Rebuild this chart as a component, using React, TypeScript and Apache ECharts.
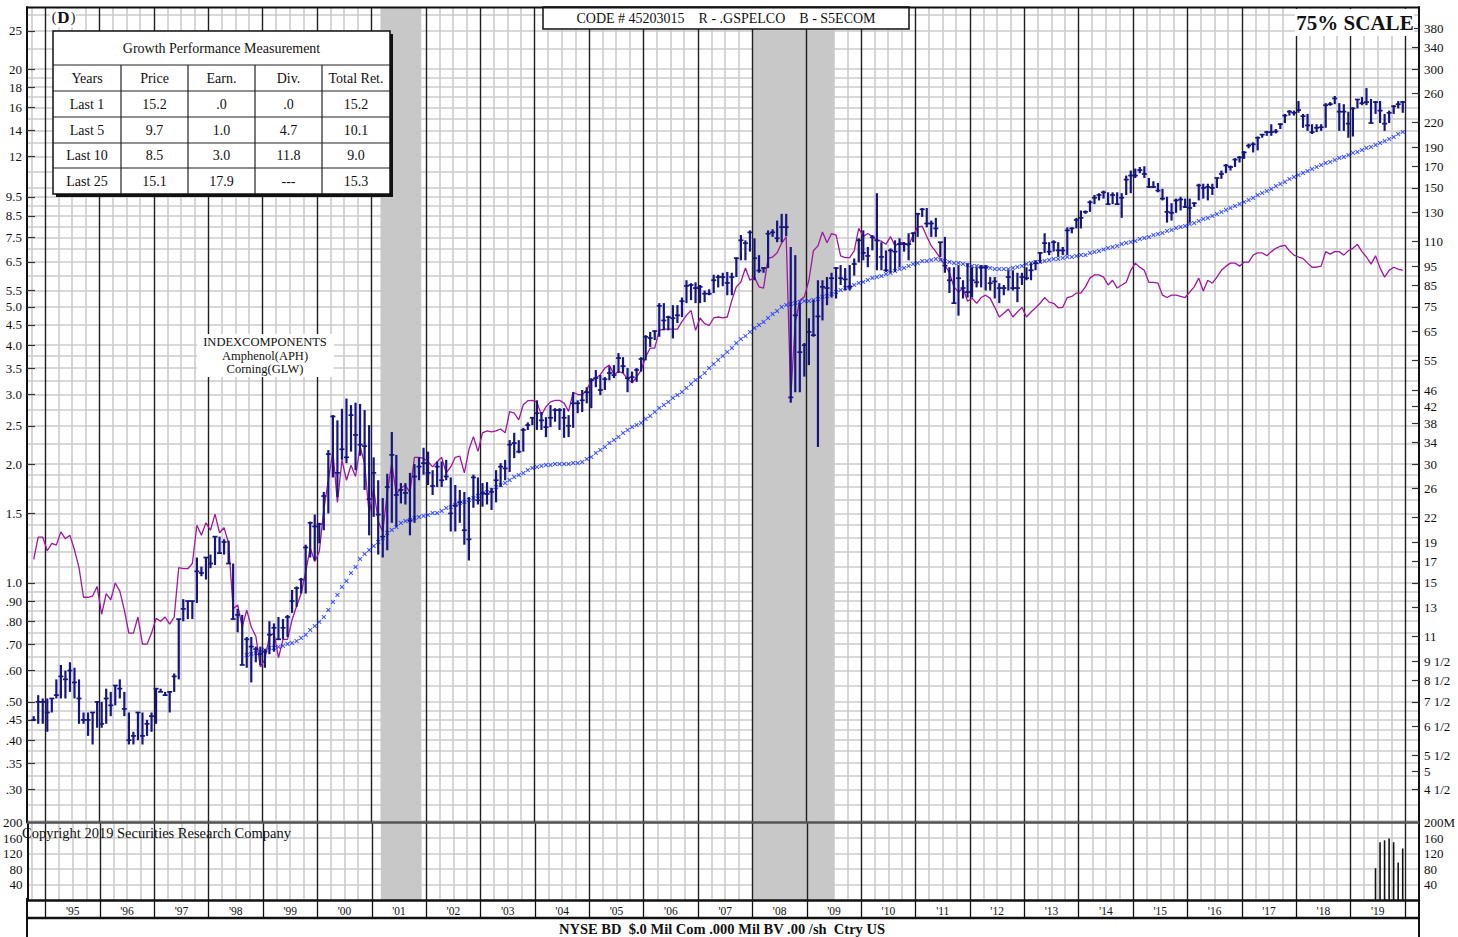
import React, { useEffect, useRef } from "react";
import * as echarts from "echarts";

// ---------------- DATA ----------------
// Monthly bars from October 1994 to December 2019
const START_YEAR = 1994;
const START_MONTH = 9; // October (0-based)

const priceHigh = [
  0.46, 0.52, 0.51,
  0.51, 0.51, 0.57, 0.62, 0.60, 0.63, 0.61, 0.57, 0.47, 0.47, 0.47, 0.50,
  0.50, 0.54, 0.53, 0.55, 0.57, 0.53, 0.47, 0.42, 0.47, 0.47, 0.45, 0.47,
  0.54, 0.54, 0.53, 0.53, 0.59, 0.81, 0.91, 0.90, 0.90, 1.16, 1.10, 1.16,
  1.18, 1.31, 1.31, 1.29, 1.28, 1.12, 0.86, 0.83, 0.73, 0.73, 0.69, 0.69,
  0.68, 0.80, 0.79, 0.82, 0.81, 0.83, 0.96, 0.98, 1.03, 1.25, 1.43, 1.49,
  1.42, 1.70, 2.17, 2.66, 2.58, 2.76, 2.93, 2.82, 2.86, 2.84, 2.74, 2.51,
  2.08, 1.82, 1.64, 1.89, 2.41, 2.11, 1.79, 1.79, 1.90, 2.00, 2.08, 2.20,
  2.15, 1.93, 2.03, 2.03, 2.05, 1.85, 1.77, 1.72, 1.70, 1.65, 1.88, 1.85,
  1.79, 1.80, 1.74, 1.93, 2.01, 2.05, 2.30, 2.40, 2.30, 2.47, 2.55, 2.63,
  2.90, 2.71, 2.63, 2.82, 2.77, 2.77, 2.77, 2.66, 3.04, 2.90, 3.08, 3.13,
  3.30, 3.46, 3.36, 3.32, 3.52, 3.56, 3.82, 3.73, 3.50, 3.43, 3.50, 3.73,
  4.24, 4.32, 4.36, 5.11, 5.11, 4.75, 5.05, 5.05, 5.28, 5.84, 5.74, 5.77,
  5.68, 5.50, 5.54, 6.03, 6.03, 6.10, 6.13, 6.10, 6.67, 7.60, 7.37, 7.81,
  7.46, 6.76, 6.30, 7.81, 7.86, 8.27, 8.60, 8.60, 7.09, 6.76, 5.11, 4.05,
  4.68, 5.20, 5.84, 5.84, 5.95, 6.10, 6.30, 6.38, 6.27, 6.38, 6.63, 7.46,
  7.81, 7.09, 7.60, 9.70, 7.29, 6.95, 7.03, 7.37, 7.46, 7.29, 7.68, 7.72,
  8.65, 8.90, 8.90, 8.27, 8.40, 7.29, 7.52, 6.30, 6.30, 6.38, 5.84, 6.45,
  6.30, 6.30, 6.38, 6.38, 5.95, 5.95, 5.74, 5.68, 6.19, 6.19, 6.10, 6.10,
  6.30, 6.45, 6.56, 6.85, 7.68, 7.29, 7.37, 7.29, 7.09, 7.95, 7.95, 8.40,
  8.77, 8.77, 9.30, 9.60, 9.70, 9.85, 9.75, 9.75, 9.75, 9.70, 10.75, 11.07,
  11.20, 11.30, 11.35, 10.60, 10.40, 10.30, 9.95, 9.50, 9.15, 9.40, 9.50, 9.40,
  9.40, 9.20, 10.25, 10.25, 10.25, 10.25, 10.60, 11.07, 11.50, 11.40, 11.90, 12.05,
  12.40, 12.95, 13.05, 13.50, 13.70, 13.95, 14.50, 14.10, 14.60, 15.40, 15.75, 15.70,
  16.60, 15.40, 15.40, 14.50, 14.50, 14.50, 16.40, 16.50, 17.10, 16.40, 16.30, 15.60,
  16.00, 16.80, 17.00, 17.90, 16.80, 16.60, 16.60, 15.40, 15.70, 16.20, 16.60, 16.60,
];

const priceLow = [
  0.45, 0.44, 0.44,
  0.42, 0.47, 0.51, 0.51, 0.51, 0.53, 0.51, 0.44, 0.44, 0.41, 0.39, 0.43,
  0.43, 0.44, 0.46, 0.49, 0.51, 0.46, 0.39, 0.39, 0.40, 0.39, 0.41, 0.42,
  0.44, 0.53, 0.52, 0.47, 0.53, 0.57, 0.80, 0.81, 0.81, 0.89, 1.04, 1.02,
  1.09, 1.11, 1.19, 1.18, 1.12, 0.81, 0.75, 0.62, 0.61, 0.56, 0.63, 0.62,
  0.61, 0.66, 0.67, 0.72, 0.72, 0.73, 0.84, 0.87, 0.94, 0.94, 1.16, 1.14,
  1.26, 1.36, 1.50, 1.85, 1.65, 2.05, 2.01, 2.15, 1.93, 2.10, 1.72, 1.32,
  1.47, 1.18, 1.16, 1.21, 1.42, 1.39, 1.59, 1.58, 1.32, 1.42, 1.82, 1.88,
  1.77, 1.67, 1.75, 1.75, 1.82, 1.35, 1.35, 1.42, 1.25, 1.14, 1.55, 1.58,
  1.56, 1.58, 1.53, 1.60, 1.75, 1.82, 1.91, 2.07, 2.13, 2.15, 2.44, 2.51,
  2.44, 2.44, 2.34, 2.48, 2.56, 2.44, 2.33, 2.34, 2.47, 2.69, 2.71, 2.85,
  2.77, 3.13, 2.99, 3.08, 3.26, 3.30, 3.40, 3.40, 3.04, 3.21, 3.23, 3.43,
  3.66, 3.96, 4.12, 4.20, 4.36, 4.36, 4.16, 4.55, 4.71, 5.11, 5.20, 5.11,
  5.11, 5.14, 5.35, 5.42, 5.60, 5.64, 5.35, 5.35, 5.95, 6.56, 6.56, 6.90,
  5.84, 6.10, 6.10, 6.27, 7.52, 7.29, 7.29, 7.55, 2.86, 3.04, 3.04, 3.33,
  3.56, 4.20, 2.21, 4.62, 5.05, 5.28, 5.25, 5.68, 5.50, 5.50, 6.00, 6.48,
  6.56, 6.30, 6.95, 6.19, 6.19, 6.13, 6.10, 6.13, 6.30, 6.90, 6.56, 7.29,
  7.52, 8.45, 7.95, 7.52, 7.52, 6.69, 6.10, 5.42, 5.11, 4.75, 5.25, 5.28,
  5.28, 5.60, 5.60, 5.50, 5.50, 5.25, 5.11, 5.35, 5.50, 5.50, 5.14, 5.68,
  5.84, 5.84, 6.19, 6.45, 6.85, 6.76, 6.90, 6.69, 6.76, 6.76, 7.68, 7.90,
  7.90, 8.60, 8.70, 9.10, 9.30, 9.40, 9.10, 9.10, 9.10, 8.40, 9.60, 9.70,
  10.60, 10.90, 10.60, 10.00, 10.00, 9.75, 9.30, 8.17, 8.27, 8.65, 8.77, 8.90,
  8.17, 8.95, 9.30, 9.40, 9.30, 9.60, 10.00, 10.55, 10.90, 11.07, 11.30, 11.60,
  11.85, 12.60, 12.30, 12.45, 13.40, 13.55, 13.55, 13.75, 14.10, 14.60, 15.25, 15.25,
  15.50, 14.20, 13.95, 13.70, 13.85, 13.95, 14.20, 16.15, 16.30, 13.95, 13.95, 13.40,
  13.50, 15.90, 16.20, 16.20, 14.60, 15.40, 14.60, 13.95, 14.60, 15.40, 15.90, 15.50,
];

const priceClose = [
  0.45, 0.50, 0.50,
  0.47, 0.51, 0.52, 0.58, 0.57, 0.60, 0.56, 0.51, 0.45, 0.45, 0.47, 0.50,
  0.44, 0.51, 0.49, 0.55, 0.54, 0.48, 0.40, 0.41, 0.47, 0.41, 0.44, 0.46,
  0.54, 0.53, 0.52, 0.53, 0.58, 0.81, 0.86, 0.90, 0.90, 1.07, 1.06, 1.16,
  1.12, 1.31, 1.19, 1.27, 1.12, 0.81, 0.83, 0.62, 0.72, 0.69, 0.68, 0.66,
  0.67, 0.74, 0.77, 0.72, 0.77, 0.82, 0.90, 0.97, 1.02, 1.23, 1.42, 1.39,
  1.41, 1.66, 2.12, 2.64, 1.90, 2.18, 2.08, 2.66, 2.37, 2.24, 2.22, 1.63,
  1.90, 1.49, 1.31, 1.75, 2.11, 1.67, 1.72, 1.69, 1.44, 1.86, 1.97, 2.01,
  1.90, 1.76, 1.97, 1.82, 1.86, 1.50, 1.57, 1.60, 1.36, 1.29, 1.85, 1.62,
  1.69, 1.68, 1.70, 1.82, 1.97, 1.95, 2.24, 2.26, 2.15, 2.44, 2.51, 2.62,
  2.69, 2.58, 2.48, 2.62, 2.74, 2.74, 2.62, 2.50, 2.85, 2.85, 2.90, 3.04,
  3.26, 3.30, 3.08, 3.28, 3.40, 3.36, 3.71, 3.54, 3.30, 3.32, 3.46, 3.69,
  4.20, 4.17, 4.34, 5.03, 4.62, 4.71, 4.68, 4.76, 5.17, 5.65, 5.68, 5.58,
  5.62, 5.40, 5.40, 5.84, 5.95, 5.95, 5.75, 5.95, 6.64, 7.37, 7.25, 7.72,
  6.64, 6.18, 6.27, 7.66, 7.72, 7.46, 7.96, 7.96, 2.95, 4.76, 3.84, 4.00,
  4.32, 4.24, 4.73, 5.62, 5.58, 5.91, 6.27, 5.91, 5.87, 5.62, 6.42, 7.37,
  6.85, 6.73, 7.50, 7.37, 6.69, 6.19, 6.95, 6.90, 7.21, 7.21, 7.21, 7.68,
  8.60, 8.83, 8.13, 8.13, 7.90, 7.29, 6.36, 5.84, 5.11, 5.91, 5.58, 5.45,
  5.84, 5.77, 6.30, 6.30, 5.74, 5.80, 5.58, 5.58, 5.95, 5.58, 5.58, 5.95,
  5.91, 6.19, 6.45, 6.85, 7.25, 6.90, 7.29, 6.95, 6.95, 7.81, 7.90, 8.30,
  8.40, 8.70, 9.20, 9.45, 9.60, 9.75, 9.10, 9.60, 9.10, 9.45, 10.50, 10.75,
  10.75, 11.10, 10.85, 10.06, 10.06, 9.85, 9.40, 8.70, 8.65, 9.30, 9.35, 8.95,
  8.90, 9.15, 10.15, 10.00, 10.06, 10.00, 10.60, 10.85, 11.40, 11.30, 11.80, 11.95,
  12.30, 12.80, 12.90, 13.40, 13.65, 13.85, 13.85, 13.90, 14.50, 15.25, 15.60, 15.50,
  15.75, 15.20, 14.40, 13.85, 14.20, 14.25, 16.20, 16.30, 16.85, 15.60, 15.60, 14.55,
  15.90, 16.75, 16.40, 16.50, 14.60, 16.50, 15.70, 14.55, 15.50, 16.10, 16.30, 16.50,
];

// Moving average (blue crosses), monthly from September 1998
const MA_START_INDEX = 47;
const movingAverage = [
  0.657, 0.661, 0.665, 0.669,
  0.677, 0.685, 0.685, 0.689, 0.693, 0.701, 0.705, 0.713, 0.726, 0.739, 0.760, 0.778,
  0.797, 0.820, 0.854, 0.895, 0.932, 0.977, 1.012, 1.060, 1.098, 1.150, 1.184, 1.212,
  1.241, 1.270, 1.300, 1.339, 1.362, 1.386, 1.419, 1.435, 1.444, 1.461, 1.469, 1.478,
  1.486, 1.504, 1.504, 1.522, 1.548, 1.557, 1.575, 1.594, 1.603, 1.622, 1.641, 1.661,
  1.690, 1.700, 1.720, 1.750, 1.771, 1.791, 1.823, 1.855, 1.877, 1.899, 1.932, 1.955,
  1.966, 1.978, 1.989, 1.989, 2.001, 2.001, 2.001, 2.001, 2.013, 2.013, 2.025, 2.060,
  2.084, 2.134, 2.171, 2.210, 2.262, 2.301, 2.342, 2.397, 2.439, 2.482, 2.512, 2.542,
  2.602, 2.648, 2.710, 2.773, 2.822, 2.872, 2.940, 2.991, 3.044, 3.116, 3.190, 3.265,
  3.323, 3.401, 3.502, 3.584, 3.669, 3.755, 3.844, 3.935, 4.052, 4.148, 4.221, 4.320,
  4.422, 4.500, 4.580, 4.688, 4.798, 4.883, 4.998, 5.057, 5.086, 5.116, 5.146, 5.176,
  5.176, 5.206, 5.236, 5.298, 5.329, 5.391, 5.455, 5.519, 5.584, 5.616, 5.682, 5.748,
  5.782, 5.849, 5.918, 5.952, 5.987, 6.058, 6.093, 6.165, 6.237, 6.274, 6.347, 6.422,
  6.459, 6.535, 6.535, 6.573, 6.612, 6.573, 6.535, 6.497, 6.459, 6.459, 6.422, 6.384,
  6.347, 6.347, 6.310, 6.310, 6.274, 6.237, 6.237, 6.237, 6.237, 6.274, 6.310, 6.347,
  6.422, 6.459, 6.497, 6.497, 6.535, 6.573, 6.612, 6.612, 6.650, 6.689, 6.689, 6.728,
  6.768, 6.768, 6.847, 6.887, 6.927, 6.987, 7.048, 7.089, 7.131, 7.214, 7.256, 7.298,
  7.341, 7.428, 7.471, 7.515, 7.603, 7.648, 7.692, 7.783, 7.828, 7.920, 7.967, 8.013,
  8.108, 8.155, 8.251, 8.348, 8.397, 8.495, 8.596, 8.696, 8.799, 8.902, 9.006, 9.111,
  9.218, 9.325, 9.434, 9.601, 9.712, 9.826, 9.942, 10.12, 10.24, 10.36, 10.54, 10.66,
  10.79, 10.91, 11.04, 11.17, 11.30, 11.43, 11.57, 11.63, 11.77, 11.91, 11.98, 12.12,
  12.27, 12.34, 12.48, 12.63, 12.70, 12.85, 13.00, 13.15, 13.31, 13.46, 13.70, 13.86,
];

// Relative strength line (right-hand scale units), monthly from October 1994
const relativeStrength = [
  17.2, 19.6, 19.6,
  18.1, 18.9, 18.7, 20.2, 19.4, 19.8, 18.2, 16.4, 13.8, 13.8, 13.9, 14.7,
  12.5, 14.1, 13.6, 15.0, 14.3, 12.8, 11.2, 11.2, 12.3, 10.5, 10.5, 11.2,
  12.2, 12.0, 12.3, 11.8, 12.3, 16.4, 16.3, 16.3, 16.8, 21.0, 19.8, 21.3,
  20.4, 22.4, 20.1, 20.7, 18.9, 12.9, 13.2, 11.6, 12.8, 11.6, 11.0, 9.2,
  9.6, 11.0, 11.2, 9.7, 10.8, 10.8, 12.1, 13.1, 14.1, 16.0, 18.4, 17.0,
  18.0, 23.0, 27.3, 32.3, 24.0, 30.7, 27.3, 29.8, 27.9, 33.2, 30.1, 22.4,
  26.0, 21.5, 20.2, 25.4, 30.2, 25.1, 26.1, 26.5, 25.4, 31.2, 31.2, 31.0,
  30.4, 29.5, 30.4, 31.2, 28.5, 29.5, 31.2, 31.4, 28.5, 32.6, 35.2, 32.3,
  36.0, 36.4, 36.2, 36.4, 36.8, 36.0, 40.7, 40.4, 38.8, 42.4, 43.4, 43.5,
  43.1, 39.9, 41.9, 43.1, 43.5, 43.5, 42.8, 40.8, 45.6, 45.0, 44.9, 46.2,
  48.9, 49.5, 50.5, 52.5, 53.4, 50.5, 51.5, 51.0, 49.3, 48.2, 49.8, 51.9,
  56.0, 59.0, 59.0, 65.4, 65.9, 65.9, 65.9, 65.9, 68.8, 71.4, 73.5, 65.4,
  70.3, 68.0, 67.3, 70.3, 70.7, 70.3, 70.7, 77.9, 84.3, 86.7, 94.1, 87.6,
  89.2, 84.3, 83.7, 99.5, 100.3, 102.8, 108.8, 112.8, 44.3, 68.6, 77.9, 79.5,
  87.6, 104, 107, 116, 109, 115, 114, 101, 100, 100, 104, 118.6,
  113, 115, 113, 110.5, 110, 108, 113, 107, 109, 109, 107, 114,
  119.4, 120, 113, 107, 103.5, 99.5, 95.7, 91.5, 84.3, 81.7, 83.7, 77.5,
  78.8, 76.6, 79.2, 80.3, 78.8, 74.8, 70.7, 72.3, 74.1, 70.7, 72.8, 74.8,
  70.7, 72.8, 74.6, 76.6, 79.2, 77.1, 76.6, 74.6, 74.8, 79.2, 79.7, 81.3,
  81.3, 84.3, 88.7, 90.4, 90.4, 89.2, 85.2, 87.6, 83.7, 85.2, 86.5, 92.8,
  96.8, 94.5, 92.8, 86.5, 86.5, 86.1, 80.3, 79.2, 80.3, 80.3, 79.7, 79.2,
  81.7, 84.3, 88.7, 82.3, 87.6, 86.1, 89.2, 92.8, 95.1, 96.8, 96.8, 95.1,
  97.4, 97.4, 101.4, 102.8, 102.8, 101, 103.5, 105.5, 106.8, 107.4, 104, 101.4,
  100.3, 99.5, 96.8, 94.5, 94.5, 95.1, 103.5, 102, 103.5, 103.5, 101.4, 104,
  105.5, 108, 103.5, 100.3, 96.2, 101, 94, 89.2, 92.8, 94.5, 93.5, 92.8,
];

// Volume (millions), June–December 2019
const VOLUME_START_INDEX = 296;
const volumeValues = [82, 149, 154, 159, 149, 97, 133];

// Shaded recession periods (decimal years)
const recessionStarts = [2001 + 2 / 12, 2008.0];
const recessionEnds = [2001 + 11 / 12, 2009.5];

// Tick labels
const leftTickValues = [25, 20, 18, 16, 14, 12, 9.5, 8.5, 7.5, 6.5, 5.5, 5.0, 4.5, 4.0, 3.5, 3.0, 2.5, 2.0, 1.5, 1.0, 0.9, 0.8, 0.7, 0.6, 0.5, 0.45, 0.4, 0.35, 0.3];
const leftTickLabels = ["25", "20", "18", "16", "14", "12", "9.5", "8.5", "7.5", "6.5", "5.5", "5.0", "4.5", "4.0", "3.5", "3.0", "2.5", "2.0", "1.5", "1.0", ".90", ".80", ".70", ".60", ".50", ".45", ".40", ".35", ".30"];
const rightTickValues = [380, 340, 300, 260, 220, 190, 170, 150, 130, 110, 95, 85, 75, 65, 55, 46, 42, 38, 34, 30, 26, 22, 19, 17, 15, 13, 11, 9.5, 8.5, 7.5, 6.5, 5.5, 5, 4.5];
const rightTickLabels = ["380", "340", "300", "260", "220", "190", "170", "150", "130", "110", "95", "85", "75", "65", "55", "46", "42", "38", "34", "30", "26", "22", "19", "17", "15", "13", "11", "9 1/2", "8 1/2", "7 1/2", "6 1/2", "5 1/2", "5", "4 1/2"];
const volumeTickValues = [40, 80, 120, 160, 200];
const volumeLeftLabels = ["40", "80", "120", "160", "200"];
const volumeRightLabels = ["40", "80", "120", "160", "200M"];
const firstLabelYear = 1995;
const lastLabelYear = 2019;

// Horizontal price grid lines (price units)
const priceGridValues = [0.25, 0.275, 0.3, 0.325, 0.35, 0.375, 0.4, 0.425, 0.45, 0.475, 0.5, 0.55, 0.6, 0.65, 0.7, 0.75, 0.8, 0.85, 0.9, 0.95, 1.0, 1.1, 1.2, 1.3, 1.4, 1.5, 1.625, 1.75, 1.875, 2.0, 2.25, 2.5, 2.75, 3.0, 3.25, 3.5, 3.75, 4.0, 4.5, 5.0, 5.5, 6.0, 6.5, 7.0, 7.5, 8.0, 8.5, 9.0, 9.5, 10, 11, 12, 13, 14, 15, 16, 17, 18, 19, 20, 22.5, 25, 27.5];

// Growth table
const tableTitle = "Growth Performance Measurement";
const tableHeaders = ["Years", "Price", "Earn.", "Div.", "Total Ret."];
const tableRows = [
  ["Last 1", "15.2", ".0", ".0", "15.2"],
  ["Last 5", "9.7", "1.0", "4.7", "10.1"],
  ["Last 10", "8.5", "3.0", "11.8", "9.0"],
  ["Last 25", "15.1", "17.9", "---", "15.3"],
];

// ---------------- LAYOUT ----------------
const X_MIN = 1994.669;
const X_MAX = 2020.257;
const P_MIN = 0.24749;
const P_MAX = 28.72;
const RS_FACTOR = 15;
const SERIF = '"Liberation Serif", "Times New Roman", serif';
const LIGHT = "#cbcbcb";
const DARK = "#1e1e1e";

const monthX = (i: number) => START_YEAR + (START_MONTH + i + 0.5) / 12;

function nearestLabel(logs: number[], labels: string[]) {
  return (val: number) => {
    let best = 0;
    let d = Infinity;
    logs.forEach((l, j) => {
      const dd = Math.abs(l - val);
      if (dd < d) { d = dd; best = j; }
    });
    return labels[best];
  };
}

function buildOption() {
  const yearBounds: number[] = [];
  for (let y = firstLabelYear; y <= lastLabelYear + 1; y++) yearBounds.push(y);
  const yearMids: number[] = [];
  for (let y = firstLabelYear; y <= lastLabelYear; y++) yearMids.push(y + 0.5);
  const quarterBounds: number[] = [];
  for (let q = Math.ceil(X_MIN * 4); q <= Math.floor(X_MAX * 4); q++) if (q % 4 !== 0) quarterBounds.push(q / 4);

  const leftLogs = leftTickValues.map((v) => Math.log10(v));
  const rightLogs = rightTickValues.map((v) => Math.log10(v));
  const gridLogs = priceGridValues.map((v) => Math.log10(v));

  const barData = priceClose.map((c, i) => [monthX(i), priceHigh[i], priceLow[i], c]);
  const maData = movingAverage.map((v, k) => [monthX(MA_START_INDEX + k), v]);
  const rsData = relativeStrength.map((v, i) => [monthX(i), v]);
  const volData = volumeValues.map((v, k) => [monthX(VOLUME_START_INDEX + k), v]);
  const shade = recessionStarts.map((s, k) => [{ xAxis: s }, { xAxis: recessionEnds[k] }]);

  const hidden = { axisLine: { show: false }, axisTick: { show: false }, axisLabel: { show: false }, splitLine: { show: false } };
  const labelFont = { fontFamily: SERIF, fontSize: 13, color: "#111" };

  const xBase = { type: "value", min: X_MIN, max: X_MAX, ...hidden };

  const graphicEls: any[] = [];
  const z = 100;
  const text = (x: number, y: number, t: string, font: string, align = "center") =>
    graphicEls.push({ type: "text", x, y, z: z + 2, silent: true, style: { text: t, fill: "#111", font, textAlign: align, textVerticalAlign: "middle" } });
  const line = (x1: number, y1: number, x2: number, y2: number, w: number, c = "#111", zz = z + 1) =>
    graphicEls.push({ type: "line", z: zz, silent: true, shape: { x1, y1, x2, y2 }, style: { stroke: c, lineWidth: w } });
  const rect = (x: number, y: number, w: number, h: number, fill: string, stroke?: string, lw = 1) =>
    graphicEls.push({ type: "rect", z, silent: true, shape: { x, y, width: w, height: h }, style: { fill, stroke: stroke || null, lineWidth: lw } });

  // frame lines
  line(27, 7.5, 1419, 7.5, 2);
  line(27, 822.5, 1419, 822.5, 2.5, "#555");
  line(27, 918, 1419, 918, 2.5);
  line(27, 898, 27, 937, 2);
  line(1419, 898, 1419, 937, 2);

  // table
  const tx = 53, ty = 31, tw = 337, th = 163;
  rect(tx + 3, ty + 3, tw, th, "#111");
  rect(tx, ty, tw, th, "#fff", "#111", 1.5);
  const rowLines = [65, 91, 117, 143, 168];
  rowLines.forEach((y) => line(tx, y, tx + tw, y, 1.2, "#222", z + 1));
  const colLines = [121, 188, 255, 322];
  colLines.forEach((x) => line(x, 65, x, ty + th, 1.2, "#222", z + 1));
  const colCenters = [87, 154.5, 221.5, 288.5, 356];
  const tableFont = `14px ${SERIF}`;
  text(221.5, 48, tableTitle, `14px ${SERIF}`);
  tableHeaders.forEach((h, j) => text(colCenters[j], 78, h, tableFont));
  const rowCenters = [104, 130, 155.5, 181];
  tableRows.forEach((r, i) => r.forEach((c, j) => text(colCenters[j], rowCenters[i], c, tableFont)));

  // (D)
  rect(50, 8.5, 26, 19, "#fff");
  text(54, 17, "(", `14px ${SERIF}`);
  text(63.5, 17, "D", `bold 17px ${SERIF}`);
  text(73, 17, ")", `14px ${SERIF}`);

  // code box
  rect(543, 7, 366, 22, "#fff", "#111", 1.5);
  text(726, 18.5, "CODE # 45203015    R - .GSPELCO    B - S5ECOM", `14px ${SERIF}`);

  // 75% scale
  rect(1295, 9, 119, 27, "#fff");
  text(1355, 23, "75% SCALE", `bold 21px ${SERIF}`);

  // index components
  rect(197, 334, 137, 43, "#fff");
  text(265, 342, "INDEXCOMPONENTS", `12.5px ${SERIF}`);
  text(265, 356, "Amphenol(APH)", `12.5px ${SERIF}`);
  text(265, 369, "Corning(GLW)", `12.5px ${SERIF}`);

  // copyright & footer
  text(22, 833, "Copyright 2019 Securities Research Company", `14.5px ${SERIF}`, "left");
  text(722, 929, "NYSE BD  $.0 Mil Com .000 Mil BV .00 /sh  Ctry US", `bold 14.5px ${SERIF}`);

  return {
    animation: false,
    backgroundColor: "#fff",
    grid: [
      { left: 27, right: 39, top: 7, height: 815.5 },
      { left: 27, right: 39, top: 822.5, height: 77.5 },
    ],
    xAxis: [
      { ...xBase, gridIndex: 0, position: "bottom", z: 1.5, axisTick: { show: false, customValues: yearBounds }, splitLine: { show: true, lineStyle: { color: DARK, width: 1.4 } } },
      { ...xBase, gridIndex: 0, position: "top", axisTick: { show: false, customValues: quarterBounds }, splitLine: { show: true, lineStyle: { color: LIGHT, width: 1.6 } } },
      {
        ...xBase, gridIndex: 1, position: "bottom", z: 1.5,
        axisLine: { show: true, onZero: false, lineStyle: { color: "#111", width: 2.5 } },
        axisTick: { show: true, customValues: yearBounds, length: 18, lineStyle: { color: "#111", width: 1.3 } },
        axisLabel: { show: true, customValues: yearMids, margin: 5, fontFamily: SERIF, fontSize: 11.5, color: "#111", formatter: (v: number) => "'" + String(Math.floor(v)).slice(2) },
        splitLine: { show: true, lineStyle: { color: DARK, width: 1.4 } },
      },
      { ...xBase, gridIndex: 1, position: "top", axisTick: { show: false, customValues: quarterBounds }, splitLine: { show: true, lineStyle: { color: LIGHT, width: 1.6 } } },
    ],
    yAxis: [
      { type: "log", logBase: 10, gridIndex: 0, min: P_MIN, max: P_MAX, ...hidden },
      { type: "log", logBase: 10, gridIndex: 0, min: P_MIN * RS_FACTOR, max: P_MAX * RS_FACTOR, ...hidden },
      {
        type: "value", gridIndex: 0, position: "left", min: Math.log10(P_MIN), max: Math.log10(P_MAX),
        axisLine: { show: true, lineStyle: { color: "#111", width: 2 } },
        axisTick: { show: true, inside: true, length: 8, customValues: leftLogs, lineStyle: { color: "#333", width: 1.2 } },
        axisLabel: { show: true, customValues: leftLogs, margin: 5, ...labelFont, formatter: nearestLabel(leftLogs, leftTickLabels) },
        splitLine: { show: false },
      },
      {
        type: "value", gridIndex: 0, position: "right", min: Math.log10(P_MIN * RS_FACTOR), max: Math.log10(P_MAX * RS_FACTOR),
        axisLine: { show: true, lineStyle: { color: "#111", width: 2 } },
        axisTick: { show: true, inside: true, length: 7, customValues: rightLogs, lineStyle: { color: "#333", width: 1.2 } },
        axisLabel: { show: true, customValues: rightLogs, margin: 5, ...labelFont, formatter: nearestLabel(rightLogs, rightTickLabels) },
        splitLine: { show: false },
      },
      {
        type: "value", gridIndex: 0, position: "left", min: Math.log10(P_MIN), max: Math.log10(P_MAX),
        axisLine: { show: false }, axisLabel: { show: false },
        axisTick: { show: false, customValues: gridLogs },
        splitLine: { show: true, lineStyle: { color: LIGHT, width: 1.6 } },
      },
      {
        type: "value", gridIndex: 1, position: "left", min: 0, max: 200,
        axisLine: { show: true, lineStyle: { color: "#111", width: 2 } },
        axisTick: { show: false, customValues: volumeTickValues },
        axisLabel: { show: true, customValues: volumeTickValues, margin: 5, ...labelFont, formatter: (v: number) => volumeLeftLabels[volumeTickValues.indexOf(v)] ?? "" },
        splitLine: { show: true, lineStyle: { color: LIGHT, width: 1.6 } },
      },
      {
        type: "value", gridIndex: 1, position: "right", min: 0, max: 200,
        axisLine: { show: true, lineStyle: { color: "#111", width: 2 } },
        axisTick: { show: false, customValues: volumeTickValues },
        axisLabel: { show: true, customValues: volumeTickValues, margin: 5, ...labelFont, formatter: (v: number) => volumeRightLabels[volumeTickValues.indexOf(v)] ?? "" },
        splitLine: { show: false },
      },
    ],
    series: [
      {
        name: "Relative Strength", type: "line", xAxisIndex: 0, yAxisIndex: 1, data: rsData,
        symbol: "none", z: 3, lineStyle: { color: "#a0189f", width: 1.3 },
        markArea: { silent: true, itemStyle: { color: "#c8c8c8" }, data: shade },
      },
      {
        name: "Moving Average", type: "scatter", xAxisIndex: 0, yAxisIndex: 0, data: maData, z: 4,
        symbol: "path://M0,1.6L1.6,0L5,3.4L8.4,0L10,1.6L6.6,5L10,8.4L8.4,10L5,6.6L1.6,10L0,8.4L3.4,5Z",
        symbolSize: 4.6, itemStyle: { color: "#0f2cff" },
      },
      {
        name: "Price", type: "custom", xAxisIndex: 0, yAxisIndex: 0, data: barData, z: 5,
        encode: { x: 0, y: [1, 2, 3] },
        renderItem: (params: any, api: any) => {
          const x = api.value(0);
          const hi = api.coord([x, api.value(1)]);
          const lo = api.coord([x, api.value(2)]);
          const cl = api.coord([x, api.value(3)]);
          const top = Math.min(hi[1], lo[1] - 1.5);
          return {
            type: "group",
            children: [
              { type: "line", shape: { x1: hi[0], y1: top, x2: lo[0], y2: lo[1] }, style: { stroke: "#15157f", lineWidth: 2.2 } },
              { type: "line", shape: { x1: cl[0] - 2.5, y1: cl[1], x2: cl[0] + 2.5, y2: cl[1] }, style: { stroke: "#15157f", lineWidth: 1.7 } },
            ],
          };
        },
      },
      {
        name: "Volume", type: "bar", xAxisIndex: 2, yAxisIndex: 5, data: volData, barWidth: 1.6, z: 3,
        itemStyle: { color: "#111" },
        markArea: { silent: true, itemStyle: { color: "#c8c8c8" }, data: shade },
      },
    ],
    graphic: { elements: graphicEls },
  };
}

export default function App() {
  const ref = useRef<HTMLDivElement>(null);
  useEffect(() => {
    if (!ref.current) return;
    const chart = echarts.init(ref.current, undefined, { renderer: "svg" });
    chart.setOption(buildOption() as any);
    return () => chart.dispose();
  }, []);
  return <div ref={ref} style={{ position: "fixed", left: 0, top: 0, width: 1458, height: 937, background: "#fff" }} />;
}
